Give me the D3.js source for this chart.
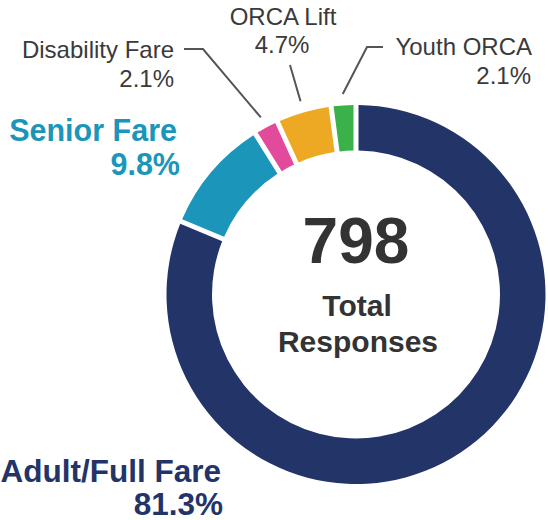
<!DOCTYPE html>
<html>
<head>
<meta charset="utf-8">
<script src="https://cdn.jsdelivr.net/npm/d3@7"></script>
<style>
  html, body { margin: 0; padding: 0; background: #fff; }
  svg { display: block; }
  text { font-family: "Liberation Sans", Arial, Helvetica, sans-serif; }
</style>
</head>
<body>
<svg id="chart" width="548" height="520"></svg>
<script>
// ---- data ----
const categories = ["Adult/Full Fare", "Senior Fare", "Disability Fare", "ORCA Lift", "Youth ORCA"];
const shares = [81.3, 9.8, 2.1, 4.7, 2.1];
const colors = ["#233468", "#1B96BA", "#E24B9B", "#EDA923", "#3BB14A"];
const totalResponses = 798;
const totalLabel = ["Total", "Responses"];

// ---- layout ----
const cx = 356, cy = 294.5;
const outerR = 189.5, innerR = 144;
const svg = d3.select("#chart");
const g = svg.append("g").attr("transform", `translate(${cx},${cy})`);

const data = categories.map((c, i) => ({ name: c, value: shares[i], color: colors[i] }));
const pie = d3.pie().value(d => d.value).sort(null).startAngle(0).endAngle(2 * Math.PI);
const arcs = pie(data);

const arc = d3.arc().innerRadius(innerR).outerRadius(outerR)
  .padAngle(5 / outerR).padRadius(outerR);

g.selectAll("path.slice").data(arcs).enter().append("path")
  .attr("class", "slice")
  .attr("d", arc)
  .attr("fill", d => d.data.color);

// label styles / placements (annotation layout)
const labelLayout = {
  "Adult/Full Fare": { x: 221, y: 482, anchor: "end", size: 31.5, weight: "bold", color: "#233468", dy: 33, dx2: 2 },
  "Senior Fare":     { x: 177, y: 141, anchor: "end", size: 30.5, weight: "bold", color: "#1B96BA", dy: 34, dx2: 3 },
  "Disability Fare": { x: 174, y: 58,  anchor: "end", size: 24, weight: "normal", color: "#3a3a3a", dy: 29, dx2: 0,
                       leader: [[184, 49], [203, 49]] },
  "ORCA Lift":       { x: 283, y: 25,  anchor: "middle", size: 24, weight: "normal", color: "#3a3a3a", dy: 28, dx2: -1,
                       leader: [[290, 65]] },
  "Youth ORCA":      { x: 532, y: 55,  anchor: "end", size: 24, weight: "normal", color: "#3a3a3a", dy: 29, dx2: -1,
                       leader: [[383, 47], [367, 47]] }
};

const leaderArc = d3.arc().innerRadius(201).outerRadius(201);
const line = d3.line();

arcs.forEach(a => {
  const L = labelLayout[a.data.name];
  const t = svg.append("text")
    .attr("text-anchor", L.anchor)
    .attr("font-size", L.size)
    .attr("font-weight", L.weight)
    .attr("fill", L.color);
  t.append("tspan").attr("x", L.x).attr("y", L.y).text(a.data.name);
  t.append("tspan").attr("x", L.x + L.dx2).attr("y", L.y + L.dy).text(d3.format(".1f")(a.data.value) + "%");

  if (L.leader) {
    const c = leaderArc.centroid(a);
    const pts = L.leader.concat([[cx + c[0], cy + c[1]]]);
    svg.append("path")
      .attr("d", line(pts))
      .attr("fill", "none")
      .attr("stroke", "#555")
      .attr("stroke-width", 2);
  }
});

// center text
const center = svg.append("g").attr("text-anchor", "middle");
center.append("text").attr("x", 356).attr("y", 263)
  .attr("font-size", 64).attr("font-weight", "bold").attr("fill", "#333")
  .text(totalResponses);
center.append("text").attr("x", 357).attr("y", 316)
  .attr("font-size", 30).attr("font-weight", "bold").attr("fill", "#333")
  .text(totalLabel[0]);
center.append("text").attr("x", 358).attr("y", 352)
  .attr("font-size", 30).attr("font-weight", "bold").attr("fill", "#333")
  .text(totalLabel[1]);
</script>
</body>
</html>
